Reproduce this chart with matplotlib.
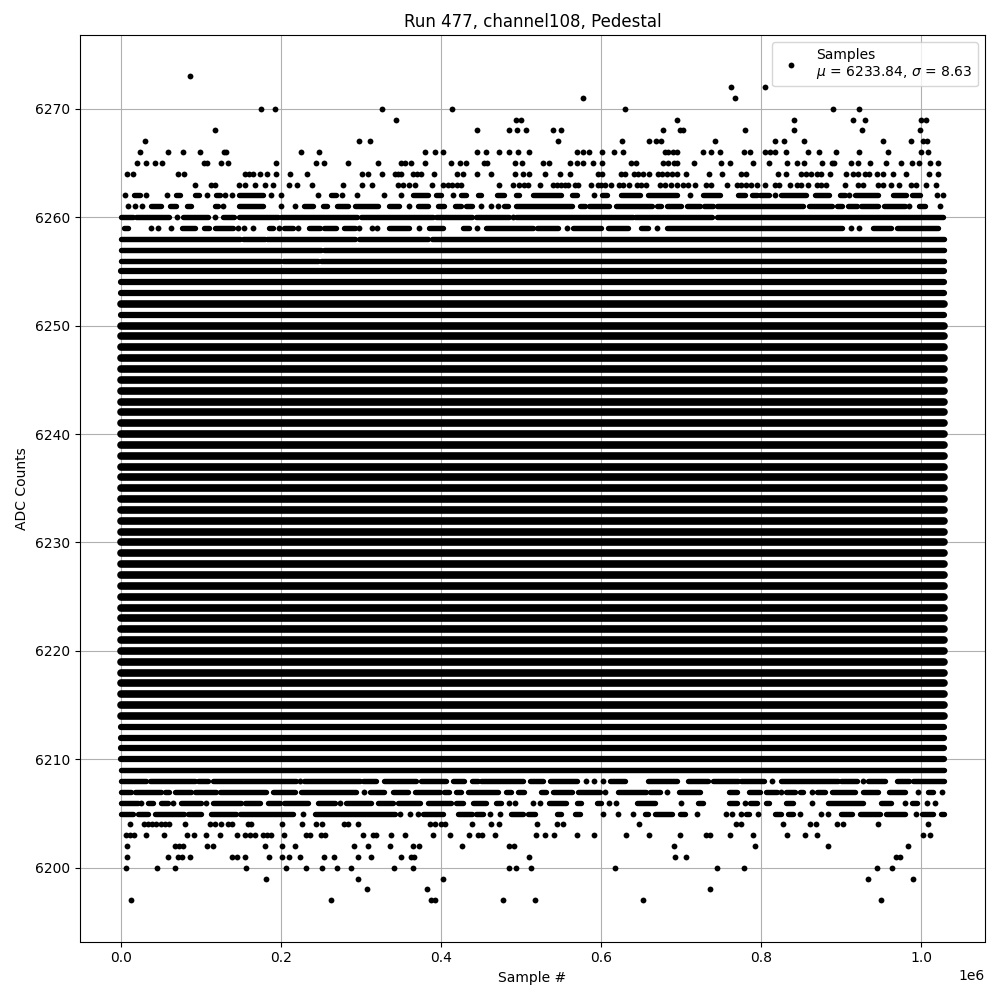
#pedestal samples of one channel (x in thousands of samples)
import matplotlib
matplotlib.use('Agg')
import matplotlib.pyplot as plt

#rows that are solid from first to last sample, the heavy ones in the middle look thicker
heavy_levels=[6214,6215,6216,6217,6218,6219,6220,6221,6222,6223,6224,6225,6226,6227,6228,6229,6230,6231,6232,
              6233,6234,6235,6236,6237,6238,6239,6240,6241,6242,6243,6244,6245,6246,6247,6248,6249,6250,6252]
light_levels=[6210,6211,6212,6213,6251,6253,6254,6255]
thin_levels=[6209]
dense_span=(0,1028)

#rows with single points only
dot_levels=[6273,6272,6271,6270,6269,6268,6267,6266,6265,6264,6263,6204,6203,6202,6201,6200,6199,6198,6197]
dots_6273=[86]
dots_6272=[762,805]
dots_6271=[577,767]
dots_6270=[175,192,326,413,630,890,922]
dots_6269=[343,494,500,695,841,915,929,1000,1006]
dots_6268=[117,445,485,495,506,540,550,677,698,702,780,841,926,998]
dots_6267=[30,297,311,546,626,660,668,675,742,817,828,853,952,987,1002,1007]
dots_6266=[23,58,77,98,128,131,225,247,380,392,402,445,456,472,485,496,510,570,577,585,601,616,627,
           680,683,690,695,727,737,748,778,786,805,811,817,831,858,872,893,922,958,1000,1008]
dots_6265=[20,31,42,51,103,107,125,133,193,243,253,283,321,350,355,362,380,412,423,431,453,457,492,501,
           527,535,561,570,577,590,601,637,643,677,683,691,695,716,750,761,790,810,832,845,853,876,888,891,
           912,921,936,956,975,988,997,1011,1021]
dots_6264=[7,15,71,78,155,160,165,173,182,193,211,232,301,308,326,342,346,350,365,370,375,391,420,427,445,462,
           492,502,510,530,548,561,596,601,625,630,641,646,652,660,671,676,682,688,695,706,735,751,775,781,
           821,831,850,856,862,869,875,886,906,915,921,929,935,945,952,965,981,1010,1021]
dots_6263=[92,112,117,147,155,167,180,190,210,220,238,277,301,313,346,352,360,367,388,402,408,414,420,425,
           472,490,497,503,508,523,540,545,550,554,558,567,571,587,596,600,605,612,622,627,635,644,650,656,
           673,680,687,695,702,708,717,731,737,757,769,775,781,787,794,804,817,822,836,845,850,858,870,875,881,
           905,921,927,946,952,962,972,987,993,1006,1018]
dots_6204=[11,28,33,38,44,50,55,60,80,111,117,125,133,138,158,162,201,226,243,251,278,283,296,386,392,400,405,
           438,462,472,520,545,552,647,768,775,827,861,868,895,902,946,1008]
dots_6203=[6,11,16,31,53,82,91,106,123,145,155,161,167,177,182,187,203,231,236,250,255,302,315,319,337,355,
           390,411,435,446,451,467,518,530,541,570,591,631,660,698,731,736,761,790,832,855,870,1002,1011]
dots_6202=[7,67,72,77,107,115,180,201,217,291,308,336,365,372,426,485,491,691,792,883,983]
dots_6201=[7,58,71,76,86,138,145,155,185,201,210,223,253,266,296,312,350,362,366,510,692,706,968,973]
dots_6200=[6,45,67,156,206,231,251,270,287,341,365,485,493,512,617,744,778,945,963]
dots_6199=[181,296,402,933,990]
dots_6198=[307,382,736]
dots_6197=[12,262,387,392,477,517,652,950]
dot_rows=[dots_6273,dots_6272,dots_6271,dots_6270,dots_6269,dots_6268,dots_6267,dots_6266,dots_6265,dots_6264,
          dots_6263,dots_6204,dots_6203,dots_6202,dots_6201,dots_6200,dots_6199,dots_6198,dots_6197]

#rows made of runs of overlapping points, (first,last), equal ends are one point
run_levels=[6262,6261,6260,6259,6258,6257,6256,6208,6207,6206,6205]
runs_6262=[(5,5),(16,23),(31,31),(57,57),(68,73),(92,97),(107,107),(119,123),(130,130),(138,138),(147,177),(187,187),
           (200,200),(246,246),(262,269),(276,276),(295,295),(328,328),(350,350),(365,383),(394,400),(415,415),
           (425,431),(446,450),(470,479),(493,497),(515,550),(563,570),(591,591),(601,607),(625,648),(658,694),
           (711,711),(727,748),(771,779),(788,794),(798,810),(817,817),(825,856),(867,885),(898,904),(910,910),
           (917,946),(965,981),(988,998),(1020,1020),(1027,1027)]
runs_6261=[(8,8),(17,17),(26,26),(37,50),(61,68),(82,87),(117,121),(127,127),(147,177),(200,200),(217,217),(228,240),
           (252,257),(270,283),(292,321),(335,347),(360,360),(371,383),(396,404),(417,425),(431,439),(450,450),
           (462,462),(471,471),(478,483),(494,563),(573,579),(585,610),(618,663),(669,675),(682,699),(707,723),
           (728,740),(745,852),(860,888),(894,901),(908,919),(924,946),(953,979),(985,985),(997,1005),(1023,1023)]
runs_6260=[(0,15),(19,60),(70,70),(77,108),(117,117),(127,141),(147,196),(200,295),(300,390),(394,438),(444,485),
           (490,490),(494,640),(642,738),(744,1027)]
runs_6259=[(3,8),(37,37),(46,46),(62,62),(76,92),(103,110),(117,140),(146,146),(154,154),(165,165),(185,190),(197,197),
           (203,215),(221,221),(235,248),(253,268),(278,292),(297,297),(313,313),(320,320),(335,360),(372,372),
           (385,402),(427,435),(445,445),(456,514),(519,546),(557,557),(564,600),(608,633),(650,658),(669,669),
           (682,901),(912,912),(922,922),(940,962),(970,1021)]
runs_6258=[(0,148),(152,180),(182,292),(297,384),(388,1028)]
runs_6257=[(0,250),(254,1028)]
runs_6256=[(0,199),(202,246),(250,1028)]
runs_6208=[(0,31),(36,92),(96,108),(115,219),(223,223),(229,298),(302,319),(329,369),(375,406),(415,429),(438,446),
           (450,502),(511,527),(536,569),(581,581),(591,591),(602,602),(611,629),(658,694),(708,733),(740,771),
           (775,803),(813,813),(825,896),(900,920),(927,927),(933,954),(969,985),(990,1028)]
runs_6207=[(0,12),(17,50),(55,60),(67,87),(92,119),(123,181),(190,217),(225,294),(303,303),(311,329),(340,358),
           (367,398),(404,410),(419,425),(433,471),(481,487),(496,504),(524,531),(540,563),(571,598),(605,605),
           (621,656),(661,673),(682,682),(697,723),(760,769),(785,798),(806,819),(825,825),(831,842),(848,852),
           (863,863),(869,879),(888,917),(927,946),(960,979),(996,996),(1008,1015),(1026,1026)]
runs_6206=[(0,21),(25,25),(33,40),(50,58),(65,65),(75,100),(106,106),(115,150),(155,173),(183,198),(204,233),(246,267),
           (273,273),(281,312),(321,340),(346,373),(383,412),(419,427),(440,456),(469,475),(485,485),(492,492),
           (515,515),(523,523),(535,556),(569,574),(594,600),(610,610),(618,618),(645,667),(700,700),(721,727),
           (760,769),(780,780),(786,794),(806,810),(831,840),(863,863),(883,927),(950,962),(980,980),(988,994),
           (1007,1007),(1017,1017)]
runs_6205=[(0,15),(21,33),(42,79),(83,100),(112,144),(148,215),(227,227),(242,342),(348,348),(361,361),(371,371),
           (377,402),(421,438),(444,452),(461,461),(473,473),(487,502),(508,517),(544,550),(567,573),(602,602),
           (621,621),(640,640),(654,658),(667,688),(698,704),(720,720),(756,756),(763,763),(775,775),(781,785),
           (796,796),(817,825),(833,840),(848,848),(875,875),(883,883),(900,913),(923,948),(956,979),(993,993),
           (1001,1015),(1024,1028)]
run_rows=[runs_6262,runs_6261,runs_6260,runs_6259,runs_6258,runs_6257,runs_6256,runs_6208,runs_6207,runs_6206,runs_6205]

mean_adc=6233.84
sigma_adc=8.63
msize=4.2

fig,ax=plt.subplots(figsize=(10,10),dpi=100)
fig.subplots_adjust(left=0.08,right=0.985,top=0.965,bottom=0.0585)

for levels,width in [(heavy_levels,5.5),(light_levels,4.5),(thin_levels,3.9)]:
    for level in levels:
        ax.plot([dense_span[0]*1e3,dense_span[1]*1e3],[level,level],color='k',lw=width,solid_capstyle='round')

for level,row in zip(run_levels,run_rows):
    for first,last in row:
        if first==last:
            ax.plot([first*1e3],[level],'o',color='k',ms=msize,mew=0)
        else:
            ax.plot([first*1e3,last*1e3],[level,level],color='k',lw=3.9,solid_capstyle='round')

for level,row in zip(dot_levels,dot_rows):
    ax.plot([x*1e3 for x in row],[level]*len(row),'o',color='k',ms=msize,mew=0)

ax.plot([],[],'o',color='k',ms=msize,mew=0,
        label='Samples\n$\\mu$ = {:.2f}, $\\sigma$ = {:.2f}'.format(mean_adc,sigma_adc))

ax.set_xlim(-0.0516e6,1.0796e6)
ax.set_ylim(6193.2,6276.8)
ax.set_title("Run 477, channel108, Pedestal")
ax.set_xlabel("Sample #")
ax.set_ylabel("ADC Counts")
ax.grid(True)
ax.legend(loc='upper right')
plt.savefig('out.png')
